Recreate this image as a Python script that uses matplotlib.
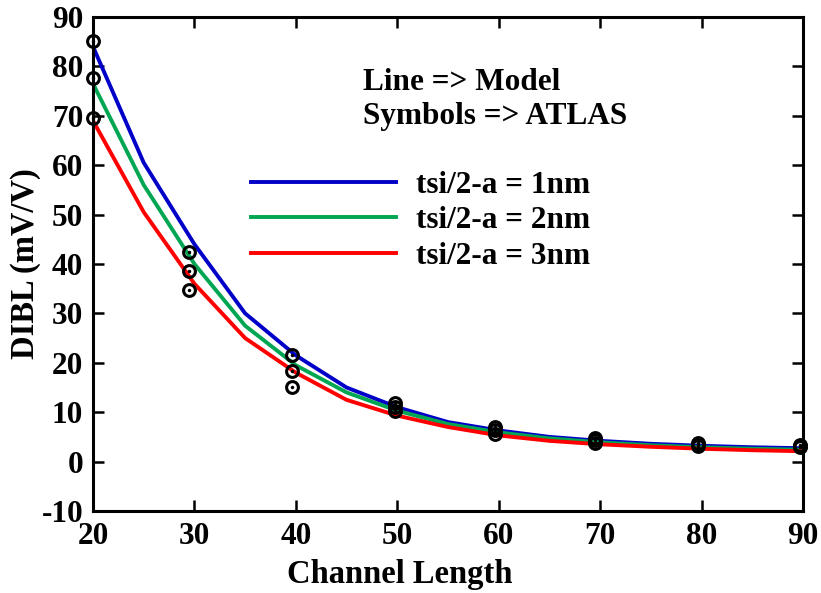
import numpy as np
import matplotlib.pyplot as plt

# model curves (lines)
L_model = [20, 25, 30, 35, 40, 45, 50, 55, 60, 65, 70, 75, 80, 85, 90]
dibl_1nm = [84, 60.5, 44, 30, 21.5, 15, 11, 8, 6.3, 5, 4.2, 3.6, 3.2, 2.9, 2.7]
dibl_2nm = [76.5, 56, 40, 27.5, 19.5, 14, 10.3, 7.6, 5.9, 4.7, 3.9, 3.3, 2.9, 2.6, 2.4]
dibl_3nm = [69, 50.5, 36, 25, 18, 12.5, 9.3, 7, 5.3, 4.2, 3.5, 3, 2.6, 2.3, 2.1]

# ATLAS symbols
L_atlas = [20, 29.5, 39.6, 49.8, 59.6, 69.5, 79.7, 89.7]
atlas_1nm = [85.1, 42.4, 21.6, 11.8, 7.0, 4.8, 3.7, 3.4]
atlas_2nm = [77.6, 38.6, 18.3, 11.0, 6.3, 4.3, 3.5, 3.2]
atlas_3nm = [69.6, 34.7, 15.1, 10.3, 5.5, 3.8, 3.2, 3.0]

labels = ['tsi/2-a = 1nm', 'tsi/2-a = 2nm', 'tsi/2-a = 3nm']
colors = ['#0000c8', '#00a651', '#ff0000']

plt.rcParams['font.family'] = ['Liberation Serif', 'DejaVu Serif']
plt.rcParams['font.weight'] = 'bold'
plt.rcParams['axes.unicode_minus'] = False

fig = plt.figure(figsize=(8.21, 5.93), dpi=100)
ax = fig.add_axes([0.1133, 0.1383, 0.8647, 0.833])

for y, c, lab in zip([dibl_1nm, dibl_2nm, dibl_3nm], colors, labels):
    ax.plot(L_model, y, color=c, lw=2.8, label=lab)

for y in [atlas_1nm, atlas_2nm, atlas_3nm]:
    ax.plot(L_atlas, y, ls='none', marker='o', ms=8.5, mfc='none', mec='black', mew=2.2,
            clip_on=False)
    ax.plot(L_atlas, y, ls='none', marker='.', ms=3, color='black', clip_on=False)

ax.set_xlim(20, 90)
ax.set_ylim(-10, 90)
ax.set_xticks(np.arange(20, 91, 10))
ax.set_yticks(np.arange(-10, 91, 10))
ax.tick_params(direction='in', length=8, width=1.8, top=True, right=True,
               labelsize=22.5)
ax.tick_params(axis='x', pad=8)
ax.tick_params(axis='y', pad=7)
for lab in ax.get_xticklabels() + ax.get_yticklabels():
    lab.set_fontweight('bold')
for s in ax.spines.values():
    s.set_linewidth(2.2)

ax.set_xlabel('Channel Length', fontsize=23.5, fontweight='bold', labelpad=6)
ax.xaxis.label.set_x(0.432)
ax.set_ylabel('DIBL (mV/V)', fontsize=23.5, fontweight='bold', labelpad=0.5)

ax.text(0.380, 0.868, 'Line => Model', transform=ax.transAxes, fontsize=22.5,
        fontweight='bold', va='center')
ax.text(0.380, 0.798, 'Symbols => ATLAS', transform=ax.transAxes, fontsize=22.5,
        fontweight='bold', va='center')

ax.legend(loc='upper left', bbox_to_anchor=(0.2225, 0.688), frameon=False,
          prop={'size': 22.5, 'weight': 'bold'}, handlelength=4.64,
          handletextpad=0.64, labelspacing=0.2, borderaxespad=0,
          borderpad=0)

fig.savefig('out.png', dpi=100)
